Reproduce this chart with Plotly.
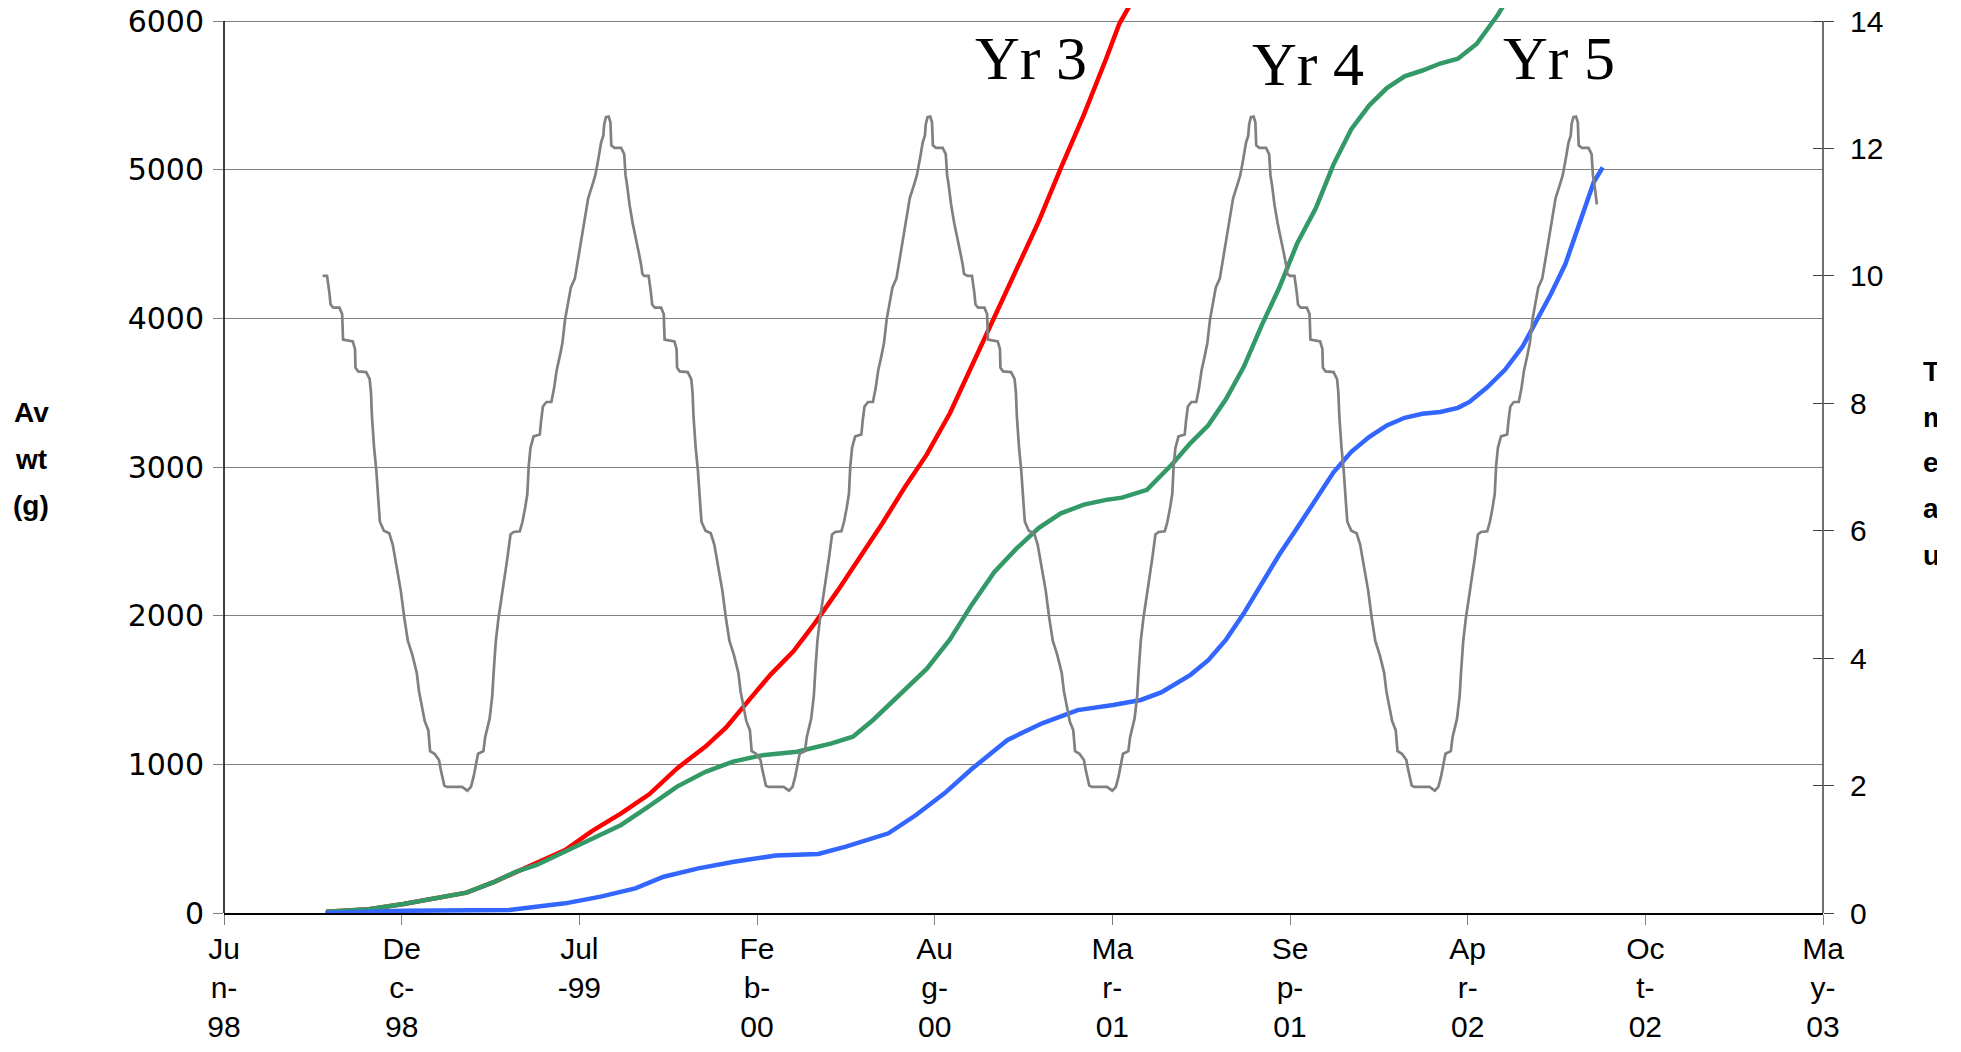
import numpy as np
import pandas as pd
import plotly.graph_objects as go

EXCEL_ORIGIN = "1899-12-30"


def xl_dates(serials):
    return pd.to_datetime(np.asarray(serials, dtype=float), unit="D", origin=EXCEL_ORIGIN)


# ---------------- data (Excel date serials, weights in g, temperature in C) -------------
x_tick_serial = [35959, 36159, 36359, 36559, 36759, 36959, 37159, 37359, 37559, 37759]
x_tick_labels = ["Ju<br>n-<br>98", "De<br>c-<br>98", "Jul<br>-99", "Fe<br>b-<br>00",
                 "Au<br>g-<br>00", "Ma<br>r-<br>01", "Se<br>p-<br>01", "Ap<br>r-<br>02",
                 "Oc<br>t-<br>02", "Ma<br>y-<br>03"]
wt_ticks = [0, 1000, 2000, 3000, 4000, 5000, 6000]
temp_ticks = [0, 2, 4, 6, 8, 10, 12, 14]

red_day = [36074, 36122, 36161, 36201, 36232, 36264, 36288, 36311, 36343, 36374, 36406,
           36438, 36469, 36501, 36524, 36549, 36574, 36600, 36625, 36650, 36675, 36700,
           36725, 36750, 36776, 36801, 36826, 36851, 36876, 36901, 36927, 36952, 36967, 36982]
red_wt = [9, 25, 60, 105, 137, 211, 278, 334, 424, 554, 670,
          800, 973, 1119, 1247, 1425, 1602, 1760, 1957, 2170, 2390, 2620,
          2860, 3083, 3360, 3680, 4010, 4320, 4650, 5010, 5370, 5746, 5983, 6141]

green_day = [36074, 36122, 36161, 36201, 36232, 36264, 36288, 36311, 36343, 36374, 36406,
             36438, 36469, 36501, 36532, 36564, 36604, 36643, 36667, 36690, 36725, 36750,
             36776, 36801, 36826, 36851, 36876, 36901, 36927, 36952, 36970, 36998, 37027,
             37047, 37067, 37087, 37107, 37127, 37147, 37167, 37188, 37208, 37228, 37248,
             37268, 37288, 37308, 37328, 37348, 37369, 37381, 37393, 37403]
green_wt = [9, 25, 60, 105, 137, 211, 278, 323, 412, 502, 592,
            720, 850, 950, 1018, 1060, 1085, 1141, 1186, 1300, 1504, 1642,
            1839, 2076, 2293, 2451, 2589, 2688, 2747, 2779, 2794, 2846, 3023,
            3161, 3280, 3457, 3674, 3951, 4207, 4503, 4740, 5036, 5272, 5431,
            5549, 5628, 5667, 5714, 5746, 5845, 5943, 6042, 6141]

blue_day = [36073, 36161, 36280, 36296, 36343, 36383, 36422, 36454, 36493, 36533, 36580,
            36628, 36659, 36707, 36738, 36770, 36801, 36841, 36880, 36920, 36960, 36991,
            37014, 37047, 37067, 37087, 37107, 37127, 37147, 37167, 37188, 37208, 37228,
            37248, 37268, 37288, 37308, 37328, 37348, 37361, 37381, 37401, 37421, 37437,
            37453, 37469, 37485, 37501, 37511]
blue_wt = [0, 15, 20, 31, 65, 110, 166, 244, 300, 345, 386,
           397, 446, 536, 659, 805, 970, 1164, 1276, 1365, 1399, 1433,
           1484, 1602, 1701, 1839, 2016, 2214, 2411, 2589, 2787, 2964, 3102,
           3201, 3280, 3331, 3358, 3370, 3398, 3438, 3536, 3654, 3812, 3990,
           4167, 4365, 4641, 4917, 5016]

# annual temperature profile: days relative to the summer peak
temp_profile_day = [-321, -316, -313.5, -312, -309, -302, -299, -298, -287, -284.5, -284,
                    -281, -272, -268, -266.5, -265.5, -263, -260.5, -258, -256.5, -252,
                    -246, -242, -237.5, -233, -229, -225, -220, -215, -212.5, -209, -206,
                    -202, -200, -195, -190, -188, -184, -181, -164, -158, -154, -151,
                    -148.5, -146, -140, -138, -133, -130, -128.5, -126, -123, -119, -116,
                    -113, -109.5, -106, -99, -96, -93, -90.5, -89, -87, -83.5, -76.5,
                    -75, -73, -69, -63.5, -60.5, -57.5, -54, -51, -48, -44.5, -41.5,
                    -37, -33.5, -29, -25.5, -22, -17, -14, -10.5, -7.5, -5, -4, -2,
                    1, 3, 4, 7.5, 15, 18.5, 20, 22, 24.5, 28, 32, 35, 37.5, 39]
temp_profile_c = [10.0, 10.0, 9.75, 9.55, 9.5, 9.5, 9.4, 9.0, 8.97, 8.85, 8.56,
                  8.5, 8.49, 8.38, 8.16, 7.8, 7.3, 6.94, 6.43, 6.14, 6.0,
                  5.96, 5.78, 5.42, 5.06, 4.63, 4.27, 4.05, 3.77, 3.48, 3.19, 3.01,
                  2.87, 2.54, 2.5, 2.4, 2.25, 2.0, 1.98, 1.98, 1.92, 1.98, 2.14,
                  2.33, 2.5, 2.54, 2.76, 3.05, 3.41, 3.77, 4.27, 4.63, 4.99, 5.28,
                  5.57, 5.94, 5.98, 5.99, 6.14, 6.36, 6.58, 7.01, 7.3, 7.48, 7.51,
                  7.73, 7.95, 8.02, 8.02, 8.23, 8.52, 8.74, 8.95, 9.32, 9.6, 9.82,
                  9.96, 10.25, 10.68, 10.97, 11.22, 11.44, 11.58, 11.84, 12.09, 12.2, 12.38, 12.49,
                  12.5, 12.41, 12.05, 12.01, 12.01, 11.91, 11.58, 11.4, 11.12, 10.83, 10.58, 10.36, 10.18, 10.03]
temp_peak_day = [36391, 36753, 37117, 37480]
temp_end_day = 37506

year_labels = ["Yr 3", "Yr 4", "Yr 5"]
left_title_lines = ["Av", "wt", "(g)"]
right_title_lines = ["Te", "mp", "er", "at", "ur"]

# ---------------- build temperature series -------------
temp_day, temp_c = [], []
for peak in temp_peak_day:
    for r, t in zip(temp_profile_day, temp_profile_c):
        if peak + r <= temp_end_day:
            temp_day.append(peak + r)
            temp_c.append(t)

# ---------------- geometry (page pixels; the page body has an 8px margin) -------------
BODY = 8
FIG_W, FIG_H = 1929, 1036
P_LEFT, P_RIGHT, P_TOP, P_BOTTOM = 224, 1823, BODY, 913     # plot area on the page
AXIS_TOP = 21                                                # where the 6000 / 14 line sits
PW, PH = P_RIGHT - P_LEFT, P_BOTTOM - P_TOP
WT_MAX = wt_ticks[-1] * (P_BOTTOM - P_TOP) / (P_BOTTOM - AXIS_TOP)
TEMP_MAX = temp_ticks[-1] * WT_MAX / wt_ticks[-1]


def paper(px, py):
    return (px - P_LEFT) / PW, (P_BOTTOM - py) / PH


fig = go.Figure()
fig.add_trace(go.Scatter(x=xl_dates(red_day), y=red_wt, mode="lines", name="Yr 3",
                         line=dict(color="#FF0000", width=4.5), yaxis="y"))
fig.add_trace(go.Scatter(x=xl_dates(green_day), y=green_wt, mode="lines", name="Yr 4",
                         line=dict(color="#339966", width=4.5), yaxis="y"))
fig.add_trace(go.Scatter(x=xl_dates(blue_day), y=blue_wt, mode="lines", name="Yr 5",
                         line=dict(color="#3366FF", width=4.5), yaxis="y"))
fig.add_trace(go.Scatter(x=xl_dates(temp_day), y=temp_c, mode="lines", name="Temp",
                         line=dict(color="#808080", width=2.7), yaxis="y2"))
fig.add_trace(go.Scatter(x=[None], y=[None], mode="lines", yaxis="y3", showlegend=False,
                         hoverinfo="skip"))

tick_dates = xl_dates(x_tick_serial)

fig.update_layout(
    template="none",
    width=FIG_W, height=FIG_H, autosize=False,
    margin=dict(l=P_LEFT - BODY, r=FIG_W - (P_RIGHT - BODY), t=P_TOP - BODY,
                b=FIG_H - (P_BOTTOM - BODY), pad=0),
    paper_bgcolor="white", plot_bgcolor="white",
    showlegend=False,
    xaxis=dict(type="date", range=[tick_dates[0], tick_dates[-1]], automargin=False,
               tickvals=tick_dates, ticktext=x_tick_labels, ticklabeloverflow="allow",
               ticks="outside", ticklen=10, tickcolor="#808080", tickwidth=1,
               showline=True, linecolor="black", linewidth=1.5,
               showgrid=False, zeroline=False, ticklabelstandoff=-2,
               tickfont=dict(family="Liberation Sans, Arial", size=30, color="black")),
    yaxis=dict(range=[0, WT_MAX], tickvals=wt_ticks, automargin=False,
               ticklabeloverflow="allow",
               ticks="outside", ticklen=10, tickcolor="#808080", tickwidth=1,
               showline=False,
               showgrid=True, gridcolor="#808080", gridwidth=1, zeroline=False,
               ticklabelstandoff=3,
               tickfont=dict(family="DejaVu Sans", size=30, color="black")),
    yaxis2=dict(range=[0, TEMP_MAX], tickvals=temp_ticks, overlaying="y", side="right",
                automargin=False, ticklabeloverflow="allow",
                ticks="outside", ticklen=10, tickcolor="#404040", tickwidth=1,
                showline=False, showgrid=False, zeroline=False, ticklabelstandoff=10,
                tickfont=dict(family="Liberation Sans, Arial", size=30, color="black")),
    yaxis3=dict(range=[0, TEMP_MAX], tickvals=temp_ticks, overlaying="y", side="right",
                automargin=False,
                ticks="inside", ticklen=10, tickcolor="#404040", tickwidth=1, showticklabels=False,
                showline=False, showgrid=False, zeroline=False),
)

# value-axis lines stop at the top tick (6000 / 14)
fig.add_shape(type="line", xref="paper", yref="y", x0=0, x1=0, y0=0, y1=wt_ticks[-1],
              line=dict(color="black", width=1.5), layer="above")
fig.add_shape(type="line", xref="paper", yref="y", x0=1, x1=1, y0=0, y1=wt_ticks[-1],
              line=dict(color="#404040", width=1.5), layer="above")

annotations = []
for txt, (px, py) in zip(year_labels, [(1031, 58), (1308, 64), (1559, 58)]):
    ax, ay = paper(px, py)
    annotations.append(dict(text=txt, x=ax, y=ay, xref="paper", yref="paper",
                            xanchor="center", yanchor="middle", showarrow=False,
                            font=dict(family="Liberation Serif, Times New Roman", size=62,
                                      color="black")))
for txt, py in zip(left_title_lines, [413, 459, 505]):
    ax, ay = paper(31, py)
    annotations.append(dict(text="<b>%s</b>" % txt, x=ax, y=ay, xref="paper", yref="paper",
                            xanchor="center", yanchor="middle", showarrow=False,
                            font=dict(family="Liberation Sans, Arial", size=28, color="black")))
for txt, py in zip(right_title_lines, [372, 418, 463, 509, 555]):
    ax, ay = paper(1921, py)
    annotations.append(dict(text="<b>%s</b>" % txt, x=ax, y=ay, xref="paper", yref="paper",
                            xanchor="left", yanchor="middle", showarrow=False,
                            font=dict(family="Liberation Sans, Arial", size=28, color="black")))
fig.update_layout(annotations=annotations)

fig.write_html("out.html")
